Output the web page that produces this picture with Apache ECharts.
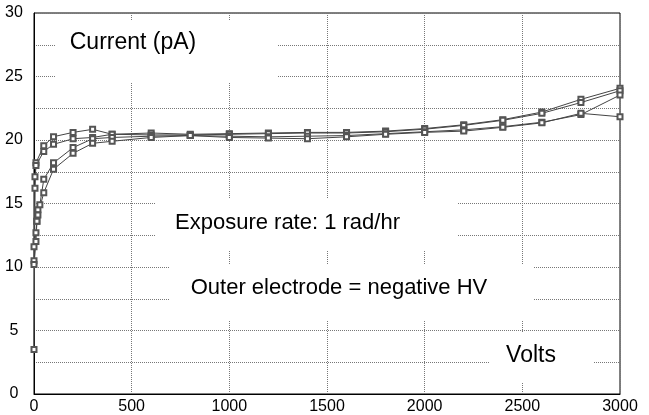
<!DOCTYPE html>
<html>
<head>
<meta charset="utf-8">
<title>Current vs Volts</title>
<script src="https://cdn.jsdelivr.net/npm/echarts@6/dist/echarts.min.js"></script>
<style>
  html, body { margin: 0; padding: 0; background: #fff; }
  #main { width: 649px; height: 415px; }
</style>
</head>
<body>
<div id="main"></div>
<script>
// volts, current (pA) - four runs
var runA = [[0,3.5],[5,16.2],[10,18.2],[50,19.55],[100,20.26],[200,20.6],[300,20.84],[400,20.45],[600,20.55],[800,20.45],[1000,20.5],[1200,20.55],[1400,20.6],[1600,20.6],[1800,20.7],[2000,20.9],[2200,21.2],[2400,21.6],[2600,22.2],[2800,23.2],[3000,24.07]];
var runB = [[0,10.5],[5,17.1],[10,18.0],[50,19.1],[100,19.66],[200,20.1],[300,20.2],[400,20.45],[600,20.4],[800,20.4],[1000,20.45],[1200,20.5],[1400,20.55],[1600,20.55],[1800,20.65],[2000,20.85],[2200,21.15],[2400,21.55],[2600,22.1],[2800,22.95],[3000,23.88]];
var runC = [[0,10.2],[10,12.0],[15,13.6],[20,14.5],[30,14.9],[50,16.9],[100,18.2],[200,19.4],[300,20.1],[400,20.2],[600,20.3],[800,20.35],[1000,20.3],[1200,20.25],[1400,20.3],[1600,20.35],[1800,20.5],[2000,20.65],[2200,20.8],[2400,21.05],[2600,21.4],[2800,22.0],[3000,23.54]];
var runD = [[0,11.6],[10,12.7],[15,13.6],[20,14.1],[50,15.85],[100,17.7],[200,18.95],[300,19.74],[400,19.9],[600,20.2],[800,20.35],[1000,20.2],[1200,20.15],[1400,20.1],[1600,20.25],[1800,20.45],[2000,20.6],[2200,20.7],[2400,21.0],[2600,21.35],[2800,22.1],[3000,21.83]];
var runs = [runA, runB, runC, runD];

var FONT = "'Liberation Sans', Arial, sans-serif";

var chart = echarts.init(document.getElementById('main'));

function box(x, y, w, h) {
    return { type: 'rect', z: 1, shape: { x: x, y: y, width: w, height: h }, style: { fill: '#fff' }, silent: true };
}
function note(txt, x, y, size) {
    return { type: 'text', z: 3, x: x, y: y, style: { text: txt, font: size + 'px ' + FONT, fill: '#000', textAlign: 'center', textVerticalAlign: 'middle' } };
}

var option = {
    animation: false,
    backgroundColor: '#fff',
    grid: { left: 34, right: 29, top: 13, bottom: 21, show: true, borderColor: '#000', borderWidth: 1 },
    xAxis: {
        type: 'value', min: 0, max: 3000, interval: 500,
        axisLine: { lineStyle: { color: '#000', width: 1 } },
        axisTick: { show: false },
        axisLabel: { color: '#000', fontFamily: FONT, fontSize: 16, margin: 5, formatter: function (v) { return String(v); } },
        splitLine: { show: true, lineStyle: { color: '#777', type: 'dotted', width: 1 } }
    },
    yAxis: {
        type: 'value', min: 0, max: 30, interval: 5,
        axisLine: { show: true, lineStyle: { color: '#000', width: 1 } },
        axisTick: { show: false },
        axisLabel: { color: '#000', fontFamily: FONT, fontSize: 16, align: 'center', margin: 20 },
        splitLine: { show: true, lineStyle: { color: '#777', type: 'dotted', width: 1 } },
        minorTick: { show: false, splitNumber: 2 },
        minorSplitLine: { show: true, lineStyle: { color: '#777', type: 'dotted', width: 1 } }
    },
    graphic: [
        box(55, 20, 222, 63),
        box(156, 199, 302, 51),
        box(170, 265, 364, 56),
        box(490, 333, 103, 50),
        note('Current (pA)', 133, 42.5, 23),
        note('Exposure rate: 1 rad/hr', 287.5, 223, 22),
        note('Outer electrode = negative HV', 339, 287.5, 22),
        note('Volts', 531, 355.5, 23)
    ],
    series: runs.map(function (r) {
        return {
            type: 'line',
            data: r,
            symbol: 'emptyRect',
            symbolSize: 5,
            lineStyle: { color: '#444', width: 1 },
            itemStyle: { color: '#555', borderWidth: 1 },
            z: 4
        };
    })
};

chart.setOption(option);
</script>
</body>
</html>
